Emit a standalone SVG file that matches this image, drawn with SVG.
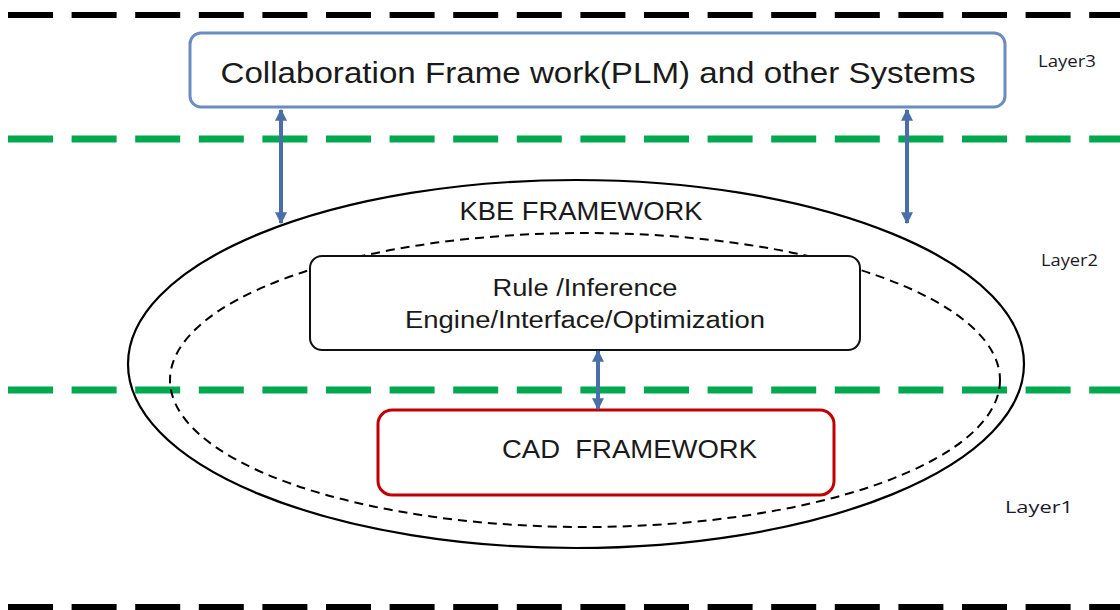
<svg xmlns="http://www.w3.org/2000/svg" width="1120" height="610" viewBox="0 0 1120 610">
  <style>
    .sep-black { stroke: #000000; stroke-width: 6; stroke-dasharray: 45 18.6; fill: none; }
    .sep-green { stroke: #00a84f; stroke-width: 7; stroke-dasharray: 45 18.6; fill: none; }
    .link { stroke: #4a6fa8; stroke-width: 4; fill: none; marker-start: url(#head); marker-end: url(#head); }
    .sans { font-family: "Liberation Sans", Arial, sans-serif; fill: #1a1a1a; }
    .label { font-family: "Open Sans", "Liberation Sans", sans-serif; fill: #1a1a2a; font-size: 16px; }
  </style>
  <defs>
    <marker id="head" viewBox="0 0 10 10" refX="9" refY="5" markerWidth="3" markerHeight="3" orient="auto-start-reverse" markerUnits="strokeWidth">
      <path d="M0,0 L10,5 L0,10 z" fill="#4a6fa8"/>
    </marker>
  </defs>

  <rect width="1120" height="610" fill="#ffffff"/>

  <!-- layer separators -->
  <g id="separators">
    <line class="sep-black" x1="8" y1="15" x2="1120" y2="15"/>
    <line class="sep-green" x1="8" y1="139" x2="1120" y2="139"/>
    <line class="sep-green" x1="8" y1="390" x2="1120" y2="390"/>
    <line class="sep-black" x1="8" y1="607" x2="1120" y2="607"/>
  </g>

  <!-- KBE framework outer boundary -->
  <g id="kbe-framework">
    <ellipse cx="576" cy="364" rx="448" ry="184" fill="none" stroke="#000000" stroke-width="2.2"/>
    <ellipse cx="585" cy="380" rx="415" ry="147" fill="none" stroke="#000000" stroke-width="2" stroke-dasharray="9 6"/>
    <text class="sans" x="581" y="220" font-size="25" text-anchor="middle" textLength="243" lengthAdjust="spacingAndGlyphs">KBE FRAMEWORK</text>
  </g>

  <!-- layer 3 system -->
  <g id="plm">
    <rect x="190" y="33" width="815" height="74" rx="11" fill="#ffffff" stroke="#6a8cc0" stroke-width="3"/>
    <text class="sans" x="598" y="83" font-size="29" text-anchor="middle" textLength="755" lengthAdjust="spacingAndGlyphs">Collaboration Frame work(PLM) and other Systems</text>
  </g>

  <!-- inference engine -->
  <g id="engine">
    <rect x="310" y="256" width="550" height="94" rx="12" fill="#ffffff" stroke="#111111" stroke-width="2"/>
    <text class="sans" x="585" y="296" font-size="23" text-anchor="middle" textLength="185" lengthAdjust="spacingAndGlyphs">Rule /Inference</text>
    <text class="sans" x="585" y="328" font-size="23" text-anchor="middle" textLength="360" lengthAdjust="spacingAndGlyphs">Engine/Interface/Optimization</text>
  </g>

  <!-- CAD framework -->
  <g id="cad">
    <rect x="378" y="410" width="456" height="85" rx="14" fill="#ffffff" stroke="#c00000" stroke-width="3"/>
    <text class="sans" x="502" y="458" font-size="26" textLength="255" lengthAdjust="spacingAndGlyphs" xml:space="preserve">CAD  FRAMEWORK</text>
  </g>

  <!-- connectors -->
  <g id="connectors">
    <line class="link" x1="281" y1="110" x2="281" y2="223"/>
    <line class="link" x1="907" y1="110" x2="907" y2="223"/>
    <line class="link" x1="598" y1="351" x2="598" y2="409"/>
  </g>

  <!-- layer labels -->
  <g id="layer-labels">
    <text class="label" x="1038" y="67" textLength="58" lengthAdjust="spacingAndGlyphs">Layer3</text>
    <text class="label" x="1041" y="266" textLength="57" lengthAdjust="spacingAndGlyphs">Layer2</text>
    <text class="label" x="1005" y="513" textLength="68" lengthAdjust="spacingAndGlyphs">Layer1</text>
  </g>
</svg>
